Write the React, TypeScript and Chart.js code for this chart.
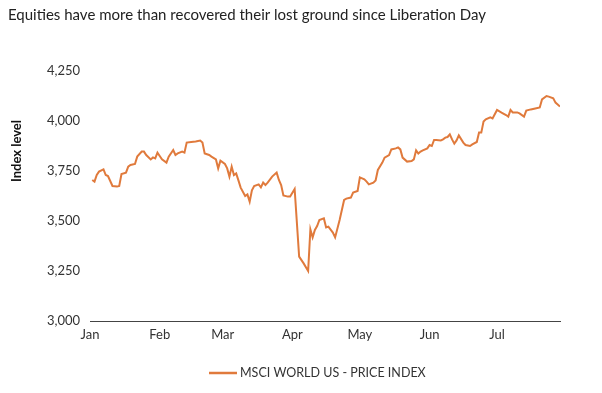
import React, { useEffect, useRef } from 'react';
import { Chart, registerables } from 'chart.js';

Chart.register(...registerables);

const TITLE = 'Equities have more than recovered their lost ground since Liberation Day';
const Y_LABEL = 'Index level';
const SERIES_LABEL = 'MSCI WORLD US - PRICE INDEX';

const monthLabels = ['Jan', 'Feb', 'Mar', 'Apr', 'May', 'Jun', 'Jul'];
const monthStartDays = [0, 31, 59, 90, 120, 151, 181];
const yTicks = [3000, 3250, 3500, 3750, 4000, 4250];

// day offset since 1 Jan
const days = [
  1, 2, 3, 4, 6, 7, 8, 10, 12, 13, 14, 16, 17, 18, 20, 21, 23, 24, 25, 27, 28, 29, 30, 31, 32, 34, 35, 37, 38, 39,
  41, 42, 43, 45, 47, 49, 50, 51, 53, 54, 56, 57, 58, 60, 61, 62, 63, 64, 65, 66, 67, 69, 70, 71, 72, 73, 75, 76, 77, 78,
  79, 81, 83, 84, 85, 86, 88, 89, 91, 93, 95, 97, 98, 99, 100, 101, 102, 104, 105, 106, 108, 109, 111, 113, 114, 116, 117, 119, 120, 122,
  123, 124, 126, 127, 128, 130, 131, 133, 134, 136, 137, 138, 139, 141, 143, 144, 145, 146, 147, 148, 150, 151, 152, 153, 154, 156, 157, 158, 159, 160,
  161, 162, 163, 164, 166, 167, 169, 170, 172, 173, 174, 175, 176, 178, 179, 181, 183, 185, 186, 187, 188, 190, 191, 193, 194, 196, 198, 200, 201, 203,
  204, 206, 207, 209,
];
const values = [
  3705, 3697, 3730, 3747, 3758, 3730, 3725, 3675, 3672, 3675, 3735, 3742, 3772, 3780, 3785, 3822, 3847, 3847, 3830, 3808, 3818, 3813, 3842, 3825, 3808, 3792, 3822, 3855, 3830, 3838,
  3847, 3842, 3892, 3895, 3897, 3902, 3892, 3838, 3830, 3822, 3808, 3763, 3802, 3785, 3763, 3722, 3772, 3730, 3738, 3703, 3667, 3625, 3633, 3597, 3653, 3675, 3683, 3668, 3692, 3680,
  3692, 3722, 3742, 3705, 3680, 3628, 3622, 3622, 3660, 3322, 3288, 3250, 3458, 3418, 3455, 3475, 3505, 3513, 3468, 3472, 3442, 3418, 3505, 3605, 3612, 3617, 3642, 3650, 3718, 3708,
  3697, 3683, 3692, 3703, 3755, 3792, 3817, 3830, 3858, 3863, 3868, 3858, 3817, 3797, 3800, 3808, 3853, 3837, 3847, 3853, 3863, 3880, 3875, 3905, 3905, 3903, 3908, 3917, 3920, 3933,
  3908, 3887, 3903, 3928, 3892, 3880, 3875, 3883, 3895, 3942, 3942, 3997, 4008, 4018, 4013, 4055, 4042, 4030, 4022, 4055, 4043, 4043, 4038, 4022, 4052, 4058, 4063, 4068, 4108, 4125,
  4122, 4113, 4092, 4072,
];

const LINE_COLOR = '#E07A3C';
const FONT = 'Lato, "Open Sans", sans-serif';
const TEXT_COLOR = '#333333';

const overlayPlugin = {
  id: 'overlayText',
  afterDraw(chart: any) {
    const { ctx, chartArea } = chart;
    ctx.save();
    // title
    ctx.fillStyle = '#222222';
    ctx.font = `15px ${FONT}`;
    ctx.textAlign = 'left';
    ctx.textBaseline = 'alphabetic';
    ctx.fillText(TITLE, 8, 20);

    // y-axis title
    ctx.save();
    ctx.translate(17, 151);
    ctx.rotate(-Math.PI / 2);
    ctx.font = `bold 13px ${FONT}`;
    ctx.fillStyle = '#111111';
    ctx.textAlign = 'center';
    ctx.textBaseline = 'middle';
    ctx.fillText(Y_LABEL, 0, 0);
    ctx.restore();

    // legend
    const ly = chartArea.bottom + 52;
    const lx = 209;
    ctx.strokeStyle = LINE_COLOR;
    ctx.lineWidth = 2.5;
    ctx.beginPath();
    ctx.moveTo(lx, ly);
    ctx.lineTo(lx + 28, ly);
    ctx.stroke();
    ctx.font = `12.5px ${FONT}`;
    ctx.fillStyle = TEXT_COLOR;
    ctx.textAlign = 'left';
    ctx.textBaseline = 'middle';
    ctx.fillText(SERIES_LABEL, lx + 31, ly);
    ctx.restore();
  },
};

export default function App() {
  const canvasRef = useRef<HTMLCanvasElement | null>(null);

  useEffect(() => {
    const canvas = canvasRef.current;
    if (!canvas) return;
    const chart = new Chart(canvas, {
      type: 'line',
      data: {
        datasets: [
          {
            label: SERIES_LABEL,
            data: days.map((d, i) => ({ x: d, y: values[i] })),
            borderColor: LINE_COLOR,
            backgroundColor: LINE_COLOR,
            borderWidth: 2,
            pointRadius: 0,
            tension: 0,
          },
        ],
      },
      options: {
        animation: false,
        responsive: false,
        devicePixelRatio: 1,
        layout: { padding: { left: 0, right: 42, top: 71, bottom: 42 } },
        plugins: {
          legend: { display: false },
          title: { display: false },
          tooltip: { enabled: false },
        },
        scales: {
          x: {
            type: 'linear',
            min: 0,
            max: 209,
            afterBuildTicks: (scale: any) => {
              scale.ticks = monthStartDays.map((v) => ({ value: v }));
            },
            afterFit: (scale: any) => {
              scale.height = 30;
            },
            grid: { display: false, drawTicks: false },
            border: { display: true, color: '#444444', width: 1 },
            ticks: {
              autoSkip: false,
              maxRotation: 0,
              padding: 6,
              color: TEXT_COLOR,
              font: { family: FONT, size: 13 },
              callback: (value: any) => monthLabels[monthStartDays.indexOf(Number(value))] ?? '',
            },
          },
          y: {
            min: 3000,
            max: 4250,
            afterBuildTicks: (scale: any) => {
              scale.ticks = yTicks.map((v) => ({ value: v }));
            },
            afterFit: (scale: any) => {
              scale.width = 90;
            },
            grid: { display: false, drawTicks: false },
            border: { display: false },
            ticks: {
              padding: 10,
              color: TEXT_COLOR,
              font: { family: FONT, size: 13 },
              callback: (value: any) => Number(value).toLocaleString('en-US'),
            },
          },
        },
      },
      plugins: [overlayPlugin],
    });
    return () => chart.destroy();
  }, []);

  return (
    <div style={{ position: 'fixed', left: 0, top: 0, width: 602, height: 393, background: '#ffffff' }}>
      <canvas ref={canvasRef} width={602} height={393} />
    </div>
  );
}
